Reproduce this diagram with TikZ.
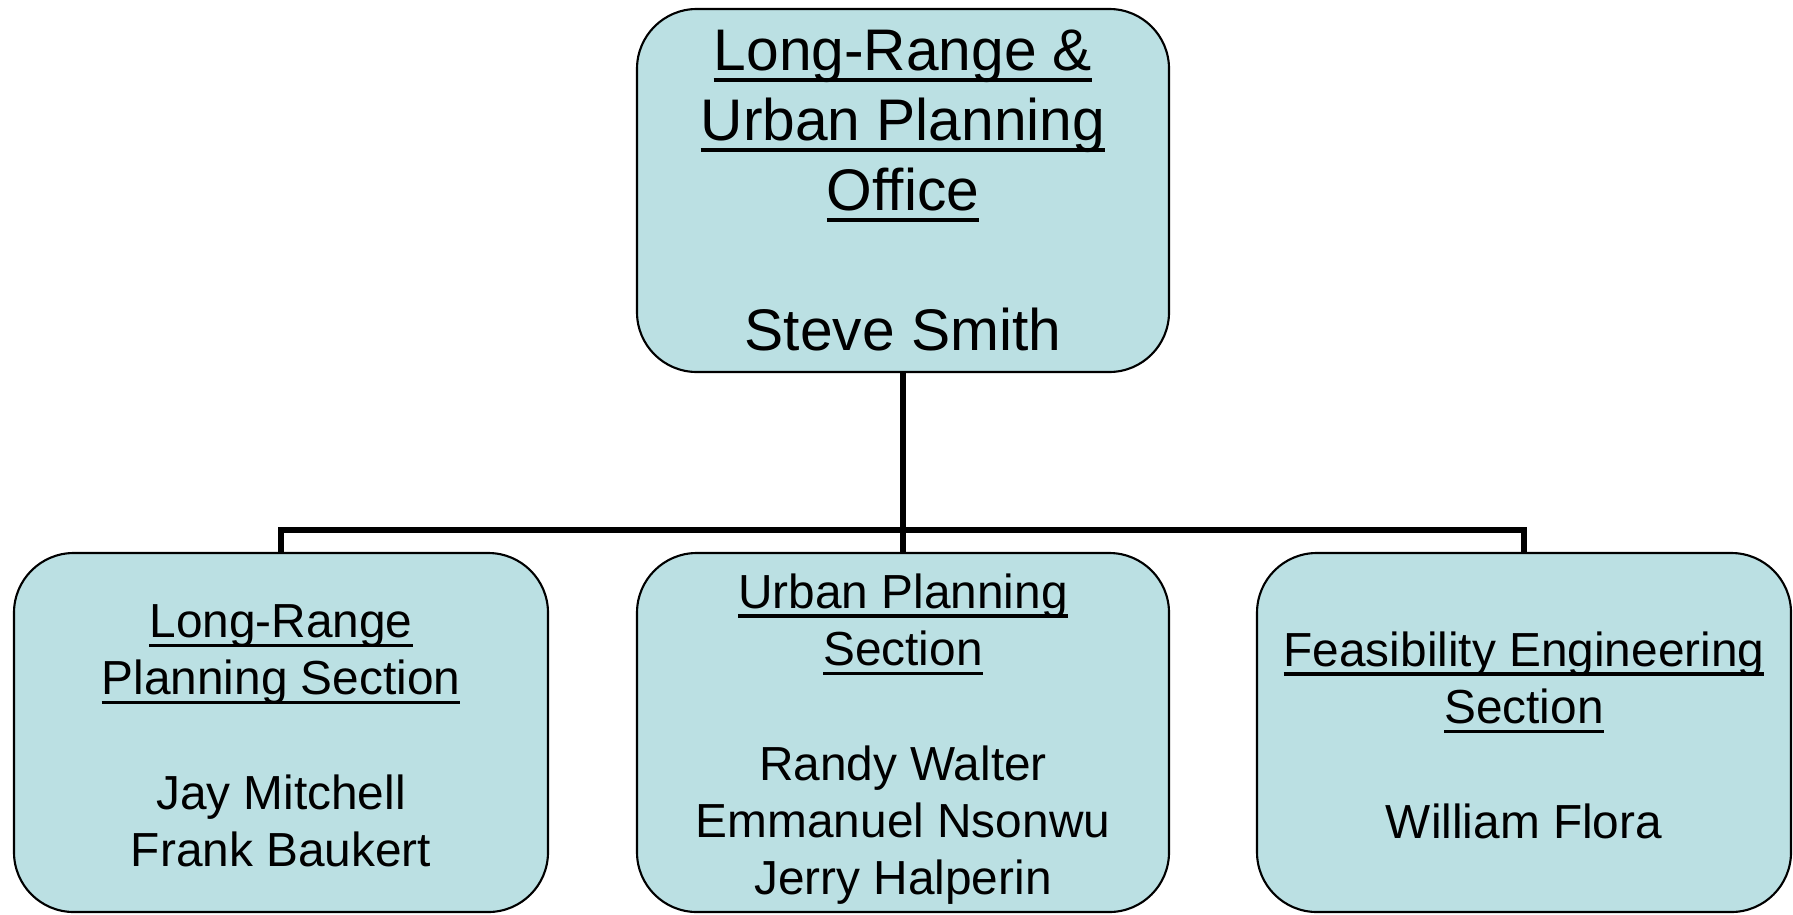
\documentclass[tikz,border=0pt]{standalone}
\usepackage{fontspec}
\setmainfont{Liberation Sans}
\definecolor{boxteal}{RGB}{187, 224, 227}
\usepackage{tikz}
\usetikzlibrary{positioning, calc}
\newsavebox{\ulnbox}
\newcommand{\uln}[1]{\sbox{\ulnbox}{#1}\rlap{\rule[-0.2em]{\wd\ulnbox}{0.07em}}\usebox{\ulnbox}}
\newcommand{\hstrut}[1]{\rule{0pt}{#1}}

\begin{document}
\begin{tikzpicture}[
    unitbox/.style={draw=black, line width=0.6pt, fill=boxteal, rounded corners=17pt, align=center, inner sep=0pt},
    headbox/.style={unitbox, minimum width=5.32cm, minimum height=3.63cm, font=\fontsize{16.7}{19.9}\selectfont},
    sectbox/.style={unitbox, minimum width=5.34cm, minimum height=3.59cm, font=\fontsize{13.6}{16.3}\selectfont},
    link/.style={draw=black, line width=1.7pt}
  ]
  \useasboundingbox (0, 0) rectangle (17.93, 9.14);

  % Office
  \node[headbox] (office) at (9.03, 7.235) {
    \uln{Long-Range \&}\\
    \uln{Urban Planning}\\
    \uln{Office}\\[19.9pt]
    Steve Smith
  };

  % Sections
  \node[sectbox] (longrange) at (2.81, 1.815) {
    \hstrut{11.3pt}\uln{Long-Range}\\
    \uln{Planning Section}\\[16.3pt]
    Jay Mitchell\\
    Frank Baukert
  };

  \node[sectbox, minimum width=5.32cm] (urban) at (9.03, 1.815) {
    \hstrut{13.6pt}\uln{Urban Planning}\\
    \uln{Section}\\[16.3pt]
    Randy Walter\\
    Emmanuel Nsonwu\\
    Jerry Halperin
  };

  \node[sectbox] (feas) at (15.24, 1.815) {
    \hstrut{11.3pt}\uln{Feasibility Engineering}\\
    \uln{Section}\\[16.3pt]
    William Flora
  };

  % Connectors
  \coordinate (bus) at (9.03, 3.84);
  \draw[link] (office.south) -- (urban.north);
  \draw[link] (longrange.north) |- (bus) -| (feas.north);
\end{tikzpicture}
\end{document}
